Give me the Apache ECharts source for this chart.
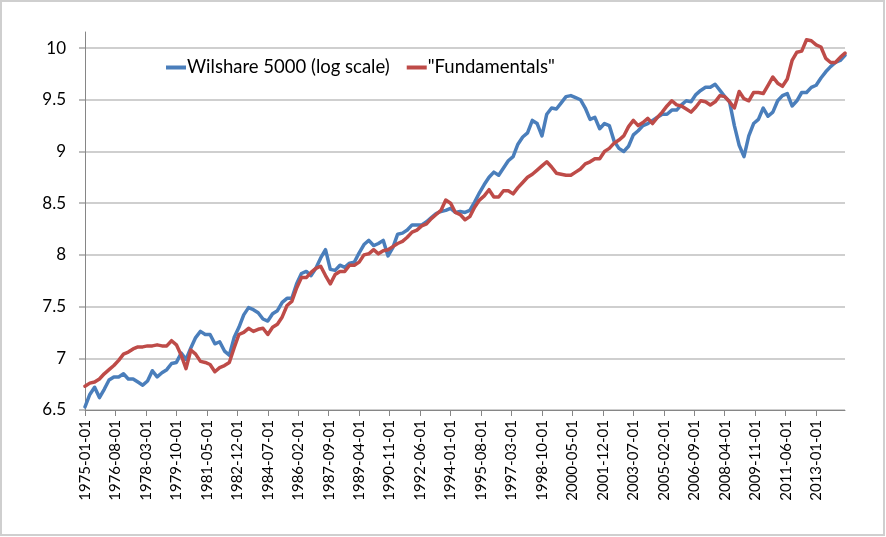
<!DOCTYPE html>
<html>
<head>
<meta charset="utf-8">
<script src="https://cdn.jsdelivr.net/npm/echarts@6/dist/echarts.min.js"></script>
<style>
html,body{margin:0;padding:0;background:#fff;}
#chart{width:886px;height:537px;}
</style>
</head>
<body>
<div id="chart"></div>
<script>
// Monthly category labels 1975-01-01 .. 2014-07-01
var startYear = 1975, monthCount = 475;
var categories = [];
for (var i = 0; i < monthCount; i++) {
  var y = startYear + Math.floor(i / 12), m = (i % 12) + 1;
  categories.push(y + '-' + (m < 10 ? '0' + m : m) + '-01');
}
var yTicks = [6.5, 7, 7.5, 8, 8.5, 9, 9.5, 10];
var seriesNames = ['Wilshare 5000 (log scale)', '"Fundamentals"'];

// Values read every 3 months (quarterly), starting 1975-01
var wilshire = [
  6.53, 6.65, 6.72, 6.62, 6.70, 6.79, 6.82, 6.82, 6.85, 6.80,
  6.80, 6.77, 6.74, 6.78, 6.88, 6.82, 6.86, 6.89, 6.95, 6.96,
  7.05, 6.99, 7.10, 7.20, 7.26, 7.23, 7.23, 7.14, 7.16, 7.07,
  7.03, 7.20, 7.30, 7.42, 7.49, 7.47, 7.44, 7.38, 7.36, 7.43,
  7.46, 7.54, 7.58, 7.58, 7.72, 7.82, 7.84, 7.80, 7.87, 7.97,
  8.05, 7.86, 7.85, 7.90, 7.88, 7.92, 7.93, 8.02, 8.10, 8.14,
  8.09, 8.11, 8.14, 7.99, 8.07, 8.20, 8.21, 8.24, 8.29, 8.29,
  8.29, 8.32, 8.36, 8.40, 8.42, 8.43, 8.45, 8.41, 8.42, 8.41,
  8.43, 8.51, 8.60, 8.68, 8.75, 8.80, 8.77, 8.84, 8.91, 8.95,
  9.07, 9.14, 9.18, 9.30, 9.27, 9.15, 9.36, 9.42, 9.41, 9.47,
  9.53, 9.54, 9.52, 9.50, 9.42, 9.31, 9.33, 9.22, 9.27, 9.25,
  9.10, 9.03, 9.00, 9.05, 9.16, 9.20, 9.25, 9.27, 9.30, 9.33,
  9.36, 9.36, 9.40, 9.40, 9.45, 9.49, 9.48, 9.55, 9.59, 9.62,
  9.62, 9.65, 9.59, 9.53, 9.48, 9.25, 9.06, 8.95, 9.15, 9.27,
  9.31, 9.42, 9.34, 9.38, 9.49, 9.54, 9.56, 9.44, 9.49, 9.57,
  9.57, 9.62, 9.64, 9.71, 9.77, 9.82, 9.86, 9.88, 9.93
];
var fundamentals = [
  6.73, 6.76, 6.77, 6.80, 6.85, 6.89, 6.93, 6.98, 7.04, 7.06,
  7.09, 7.11, 7.11, 7.12, 7.12, 7.13, 7.12, 7.12, 7.17, 7.13,
  7.03, 6.90, 7.08, 7.04, 6.97, 6.96, 6.94, 6.87, 6.91, 6.93,
  6.96, 7.10, 7.23, 7.25, 7.29, 7.26, 7.28, 7.29, 7.23, 7.30,
  7.33, 7.40, 7.51, 7.55, 7.68, 7.78, 7.78, 7.83, 7.87, 7.89,
  7.80, 7.72, 7.81, 7.84, 7.84, 7.90, 7.90, 7.93, 8.00, 8.01,
  8.05, 8.01, 8.04, 8.05, 8.08, 8.11, 8.13, 8.17, 8.22, 8.24,
  8.28, 8.30, 8.35, 8.39, 8.43, 8.53, 8.50, 8.41, 8.39, 8.34,
  8.37, 8.46, 8.53, 8.57, 8.63, 8.56, 8.56, 8.62, 8.62, 8.59,
  8.65, 8.70, 8.75, 8.78, 8.82, 8.86, 8.90, 8.85, 8.79, 8.78,
  8.77, 8.77, 8.80, 8.83, 8.88, 8.90, 8.93, 8.93, 9.00, 9.03,
  9.08, 9.11, 9.15, 9.24, 9.30, 9.25, 9.28, 9.32, 9.27, 9.33,
  9.38, 9.44, 9.49, 9.45, 9.44, 9.41, 9.38, 9.43, 9.49, 9.48,
  9.45, 9.48, 9.54, 9.53, 9.48, 9.42, 9.58, 9.51, 9.49, 9.57,
  9.57, 9.56, 9.64, 9.72, 9.66, 9.63, 9.70, 9.88, 9.96, 9.97,
  10.08, 10.07, 10.03, 10.01, 9.90, 9.86, 9.86, 9.91, 9.95
];

function toPairs(arr) {
  return arr.map(function (v, k) { return [k * 3, v]; });
}
function isYTick(v) {
  return yTicks.some(function (t) { return Math.abs(t - v) < 1e-6; });
}

var FONT = 'Lato, "Open Sans", sans-serif';
var chart = echarts.init(document.getElementById('chart'), null, {renderer: 'canvas'});
chart.setOption({
  animation: false,
  backgroundColor: '#ffffff',
  graphic: [{
    type: 'rect', silent: true,
    shape: {x: 1, y: 1, width: 883, height: 534},
    style: {fill: 'none', stroke: '#cfcfcf', lineWidth: 2}
  }],
  legend: {
    left: 166, top: 58, padding: 0,
    itemWidth: 20, itemHeight: 4, itemGap: 17,
    icon: 'rect',
    textStyle: {fontFamily: FONT, fontSize: 18.5, color: '#000', padding: [0, 0, 0, -4]},
    data: seriesNames
  },
  grid: {left: 85, right: 41, top: 32, bottom: 127, containLabel: false},
  xAxis: {
    type: 'category',
    data: categories,
    boundaryGap: false,
    axisLine: {lineStyle: {color: '#868686', width: 1}},
    axisTick: {show: true, interval: 18, length: 6, lineStyle: {color: '#868686'}},
    axisLabel: {interval: 18, rotate: 90, margin: 10, fontFamily: FONT, fontSize: 15, color: '#000'},
    splitLine: {show: false}
  },
  yAxis: {
    type: 'value',
    min: 6.5, max: 10.155, interval: 0.5,
    axisLine: {show: true, lineStyle: {color: '#868686', width: 1}},
    axisTick: {show: true, inside: false, length: 6, lineStyle: {color: '#a6a6a6', width: 1.5}},
    axisLabel: {margin: 19, fontFamily: FONT, fontSize: 17, color: '#000',
      showMaxLabel: false,
      formatter: function (v) { return isYTick(v) ? String(v) : ''; }},
    splitLine: {show: true, showMaxLine: false, lineStyle: {color: '#bfbfbf', width: 1.5}}
  },
  series: [{
    name: seriesNames[0], type: 'line', data: toPairs(wilshire),
    showSymbol: false, symbol: 'none',
    lineStyle: {color: '#4a7ebb', width: 3.5, cap: 'round', join: 'round'},
    itemStyle: {color: '#4a7ebb'}
  }, {
    name: seriesNames[1], type: 'line', data: toPairs(fundamentals),
    showSymbol: false, symbol: 'none',
    lineStyle: {color: '#be4b48', width: 3.5, cap: 'round', join: 'round'},
    itemStyle: {color: '#be4b48'}
  }]
});
</script>
</body>
</html>
